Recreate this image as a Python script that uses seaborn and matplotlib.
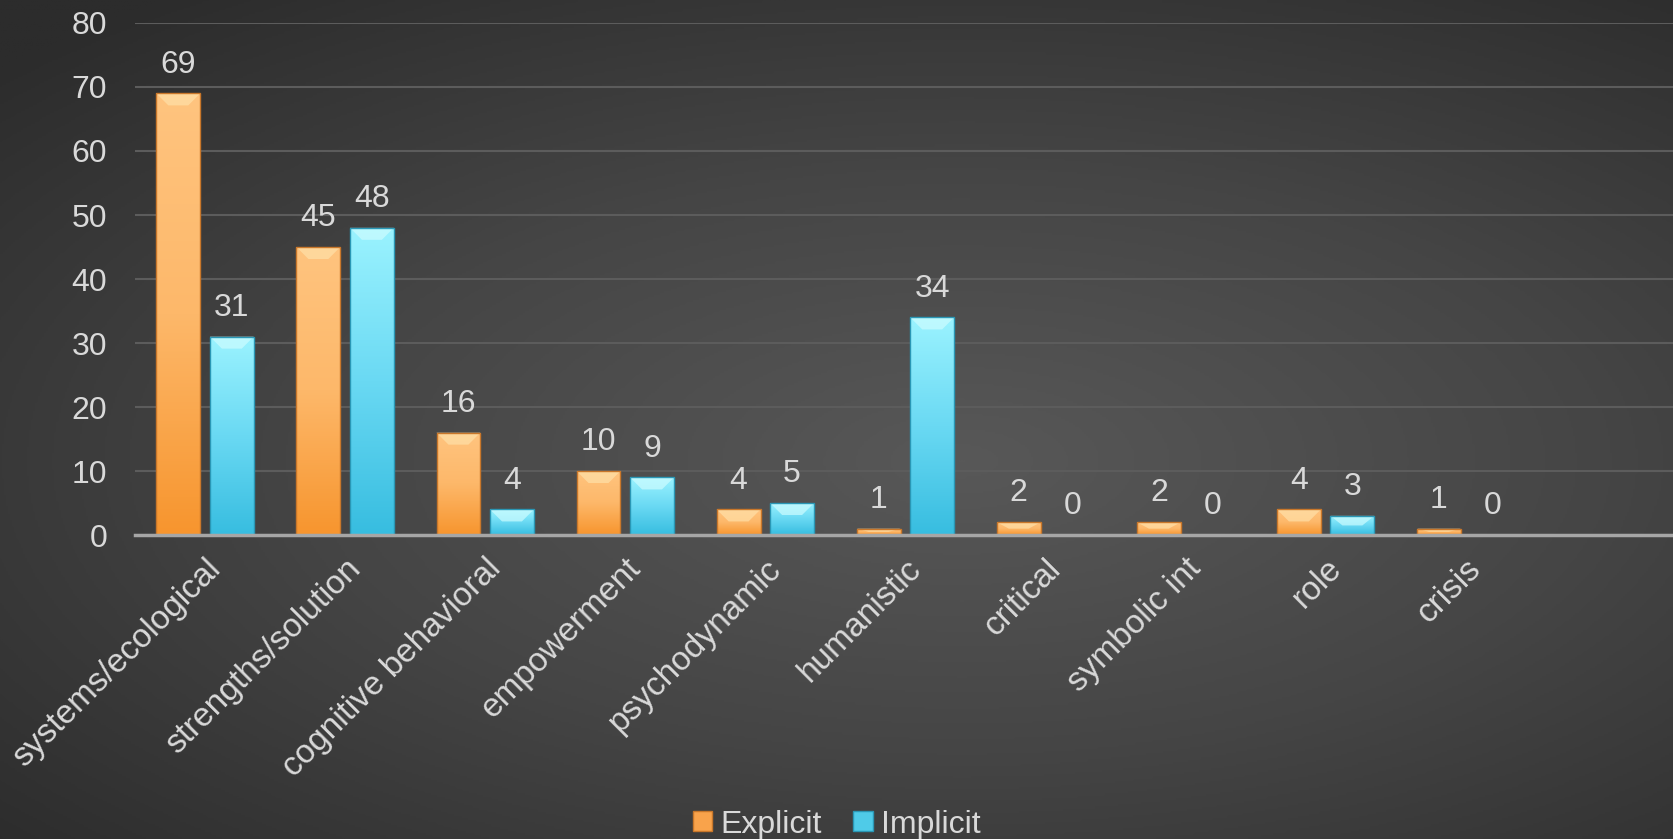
import numpy as np
import pandas as pd
import matplotlib
matplotlib.use('Agg')
import matplotlib.pyplot as plt
import seaborn as sns
from matplotlib.colors import LinearSegmentedColormap
from matplotlib.patches import Polygon

# chart values
categories = ['systems/ecological', 'strengths/solution', 'cognitive behavioral',
              'empowerment', 'psychodynamic', 'humanistic', 'critical',
              'symbolic int', 'role', 'crisis']
explicit = [69, 45, 16, 10, 4, 1, 2, 2, 4, 1]
implicit = [31, 48, 4, 9, 5, 34, 0, 0, 3, 0]
series_names = ['Explicit', 'Implicit']

df = pd.DataFrame({
    'category': categories * 2,
    'type': [series_names[0]] * len(categories) + [series_names[1]] * len(categories),
    'count': explicit + implicit,
})

sns.set_theme(style='dark')
plt.rcParams['font.family'] = ['Liberation Sans', 'DejaVu Sans']
text_col = '#d9d9d9'
fs = 23

fig = plt.figure(figsize=(16.73, 8.39), dpi=100)

# radial gradient background
bg = fig.add_axes([0, 0, 1, 1], zorder=-10)
yy, xx = np.mgrid[-1:1:400j, -1:1:800j]
r = np.sqrt(((xx - 0.15) * 0.9) ** 2 + ((yy - 0.1) * 1.0) ** 2)
bg_cmap = LinearSegmentedColormap.from_list('bg', ['#585858', '#454545', '#2c2c2c'])
bg.imshow(r, cmap=bg_cmap, aspect='auto', extent=[0, 1, 0, 1], vmin=0, vmax=1.4)
bg.set_axis_off()

ax = fig.add_axes([0.0807, 0.3623, 0.921, 0.6103])
ax.set_facecolor('none')

palette = {'Explicit': '#f9a34b', 'Implicit': '#4fcbe8'}
sns.barplot(data=df, x='category', y='count', hue='type', order=categories,
            palette=palette, width=0.764, gap=0.18, ax=ax, legend=False,
            edgecolor='none', zorder=3)

grads = {
    'Explicit': LinearSegmentedColormap.from_list('o', ['#f7952e', '#fdb86a', '#ffc47f']),
    'Implicit': LinearSegmentedColormap.from_list('c', ['#37bde0', '#6ad9f3', '#9bf3ff']),
}
bevel_top = {'Explicit': '#ffe0a8', 'Implicit': '#cdfcff'}
edge_col = {'Explicit': '#c9772a', 'Implicit': '#2a97b5'}

px_x = 0.921 * 1673 / 11.0   # pixels per x unit
px_y = 0.6103 * 839 / 80.0   # pixels per y unit
bev = 12

for cont, name in zip(ax.containers, series_names):
    for bar in cont:
        x0, w, h = bar.get_x(), bar.get_width(), bar.get_height()
        if h <= 0:
            bar.set_visible(False)
            continue
        bar.set_facecolor('none')
        grad = np.linspace(0, 1, 256).reshape(-1, 1)
        im = ax.imshow(grad, cmap=grads[name], aspect='auto', origin='lower',
                       extent=[x0, x0 + w, 0, h], zorder=3)
        im.set_clip_path(bar)
        bx = bev / px_x
        by = min(bev / px_y, h / 2)
        top = Polygon([[x0, h], [x0 + w, h], [x0 + w - bx, h - by], [x0 + bx, h - by]],
                      closed=True, facecolor=bevel_top[name], edgecolor='none',
                      alpha=0.7, zorder=4)
        ax.add_patch(top)
        bar.set_edgecolor(edge_col[name])
        bar.set_linewidth(1.0)
        bar.set_zorder(5)
    ax.bar_label(cont, fmt='%d', padding=10, color=text_col, fontsize=fs)

ax.set_xlim(-0.5, 10.5)
ax.set_ylim(0, 80)
ax.set_yticks(range(0, 81, 10))

ax.grid(axis='y', color='#5c5c5c', linewidth=1.5, zorder=0)
ax.grid(axis='x', visible=False)
for s in ['top', 'right', 'left']:
    ax.spines[s].set_visible(False)
ax.spines['bottom'].set_color('#a6a6a6')
ax.spines['bottom'].set_linewidth(2.5)
ax.spines['bottom'].set_zorder(6)

ax.set_xlabel('')
ax.set_ylabel('')
ax.tick_params(axis='y', colors=text_col, labelsize=fs, length=0, pad=20)
ax.tick_params(axis='x', colors=text_col, labelsize=24, length=0, pad=13)
plt.setp(ax.get_xticklabels(), rotation=45, ha='right', rotation_mode='anchor')

# legend
handles = [matplotlib.patches.Patch(facecolor=palette[n], edgecolor=edge_col[n]) for n in series_names]
fig.legend(handles, series_names, loc='lower center', bbox_to_anchor=(0.5, -0.035),
           ncol=2, frameon=False, fontsize=fs, labelcolor=text_col,
           handlelength=0.6, handleheight=0.6, handletextpad=0.25, columnspacing=1.0)

fig.savefig('out.png', dpi=100)
